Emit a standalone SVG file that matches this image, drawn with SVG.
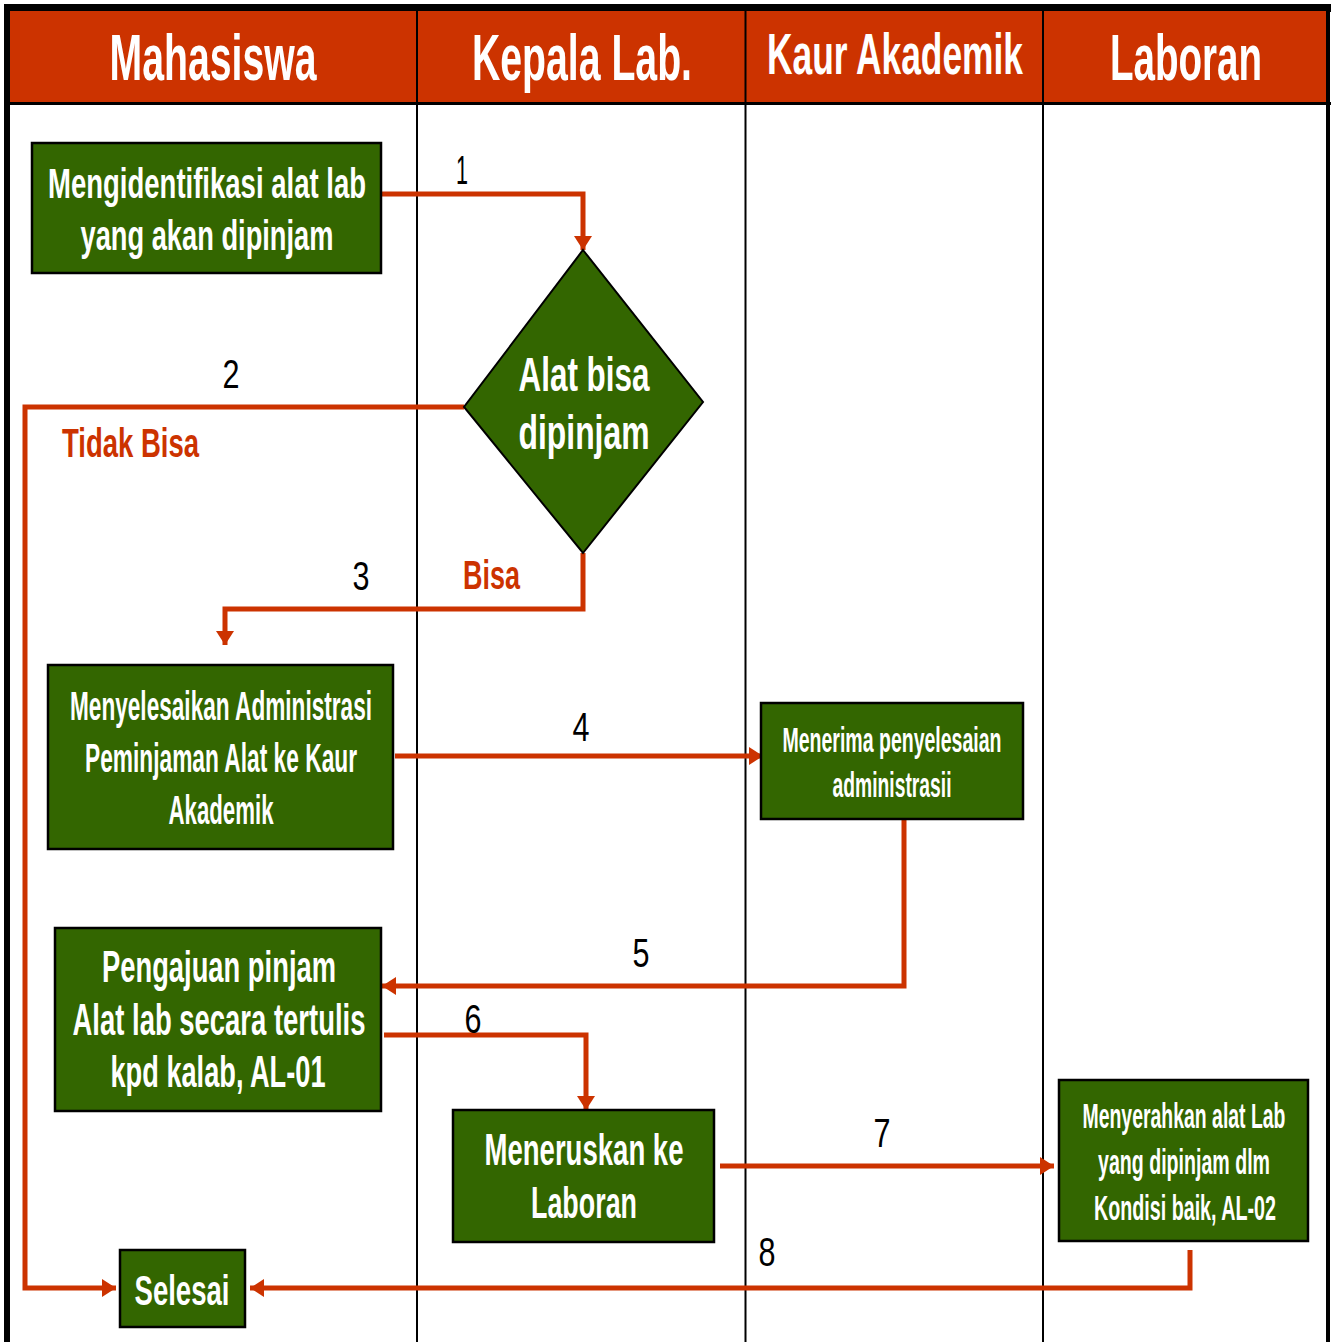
<svg xmlns="http://www.w3.org/2000/svg" width="1335" height="1342" viewBox="0 0 1335 1342">
<style>
.hdr{fill:#CC3300}
.hdrt{font-family:"Liberation Sans",Arial,sans-serif;font-weight:bold;fill:#fff;text-anchor:middle}
.box{fill:#336600;stroke:#000;stroke-width:2.5}
.bt{font-family:"Liberation Sans",Arial,sans-serif;font-weight:bold;fill:#fff;text-anchor:middle}
.num{font-family:"Liberation Sans",Arial,sans-serif;fill:#000;text-anchor:middle}
.lbl{font-family:"Liberation Sans",Arial,sans-serif;font-weight:bold;fill:#CC3300}
.conn{fill:none;stroke:#CC3300;stroke-width:5;stroke-linejoin:miter}
.lane{stroke:#000;stroke-width:2}
</style>
<defs>
<marker id="arr" markerUnits="userSpaceOnUse" markerWidth="16" markerHeight="18" refX="14" refY="9" orient="auto">
<path d="M0,0 L14,9 L0,18 z" fill="#CC3300"/>
</marker>
</defs>
<rect x="0" y="0" width="1335" height="1342" fill="#fff"/>
<g id="frame">
<rect x="4" y="4" width="1327" height="8" fill="#000"/>
<rect class="hdr" x="9" y="11" width="1319" height="92"/>
<rect x="4" y="102" width="1327" height="3" fill="#000"/>
<rect x="4" y="4" width="6" height="1338" fill="#000"/>
<rect x="1326" y="4" width="4" height="1338" fill="#000"/>
<line class="lane" x1="417" y1="11" x2="417" y2="1342"/>
<line class="lane" x1="745.5" y1="11" x2="745.5" y2="1342"/>
<line class="lane" x1="1043" y1="11" x2="1043" y2="1342"/>
<text class="hdrt" x="213" y="80" font-size="64" textLength="207" lengthAdjust="spacingAndGlyphs">Mahasiswa</text>
<text class="hdrt" x="582" y="80" font-size="64" textLength="220" lengthAdjust="spacingAndGlyphs">Kepala Lab.</text>
<text class="hdrt" x="895" y="74" font-size="58" textLength="256" lengthAdjust="spacingAndGlyphs">Kaur Akademik</text>
<text class="hdrt" x="1186" y="80" font-size="64" textLength="152" lengthAdjust="spacingAndGlyphs">Laboran</text>
</g>
<g id="connectors">
<polyline class="conn" points="381,194 583,194 583,250" marker-end="url(#arr)"/>
<polyline class="conn" points="464,407 25,407 25,1288 116,1288" marker-end="url(#arr)"/>
<polyline class="conn" points="583,553 583,609 225,609 225,645" marker-end="url(#arr)"/>
<polyline class="conn" points="395,756 763,756" marker-end="url(#arr)"/>
<polyline class="conn" points="904,819 904,986 382,986" marker-end="url(#arr)"/>
<polyline class="conn" points="384,1035 586,1035 586,1110" marker-end="url(#arr)"/>
<polyline class="conn" points="720,1166 1054,1166" marker-end="url(#arr)"/>
<polyline class="conn" points="1190,1250 1190,1288 250,1288" marker-end="url(#arr)"/>
<text class="num" x="462" y="184" font-size="40" textLength="12" lengthAdjust="spacingAndGlyphs">1</text>
<text class="num" x="231" y="388" font-size="40" textLength="17" lengthAdjust="spacingAndGlyphs">2</text>
<text class="num" x="361" y="590" font-size="40" textLength="17" lengthAdjust="spacingAndGlyphs">3</text>
<text class="num" x="581" y="741" font-size="40" textLength="17" lengthAdjust="spacingAndGlyphs">4</text>
<text class="num" x="641" y="967" font-size="40" textLength="17" lengthAdjust="spacingAndGlyphs">5</text>
<text class="num" x="473" y="1033" font-size="40" textLength="17" lengthAdjust="spacingAndGlyphs">6</text>
<text class="num" x="882" y="1147" font-size="40" textLength="17" lengthAdjust="spacingAndGlyphs">7</text>
<text class="num" x="767" y="1266" font-size="40" textLength="17" lengthAdjust="spacingAndGlyphs">8</text>
<text class="lbl" x="62" y="457" font-size="41" textLength="137" lengthAdjust="spacingAndGlyphs">Tidak Bisa</text>
<text class="lbl" x="463" y="589" font-size="41" textLength="57" lengthAdjust="spacingAndGlyphs">Bisa</text>
</g>
<g id="node-identifikasi">
<rect class="box" x="32" y="143" width="349" height="130"/>
<text class="bt" x="207" y="198" font-size="43" textLength="318" lengthAdjust="spacingAndGlyphs">Mengidentifikasi alat lab</text>
<text class="bt" x="207" y="250" font-size="43" textLength="253" lengthAdjust="spacingAndGlyphs">yang akan dipinjam</text>
</g>
<g id="node-decision">
<polygon points="583,250 703,402 583,553 464,407" fill="#336600" stroke="#000" stroke-width="2"/>
<text class="bt" x="584" y="391" font-size="49" textLength="131" lengthAdjust="spacingAndGlyphs">Alat bisa</text>
<text class="bt" x="584" y="449" font-size="49" textLength="131" lengthAdjust="spacingAndGlyphs">dipinjam</text>
</g>
<g id="node-administrasi">
<rect class="box" x="48" y="665" width="345" height="184"/>
<text class="bt" x="221" y="720" font-size="40" textLength="302" lengthAdjust="spacingAndGlyphs">Menyelesaikan Administrasi</text>
<text class="bt" x="221" y="772" font-size="40" textLength="272" lengthAdjust="spacingAndGlyphs">Peminjaman Alat ke Kaur</text>
<text class="bt" x="221" y="824" font-size="40" textLength="105" lengthAdjust="spacingAndGlyphs">Akademik</text>
</g>
<g id="node-menerima">
<rect class="box" x="761" y="703" width="262" height="116"/>
<text class="bt" x="892" y="752" font-size="35" textLength="219" lengthAdjust="spacingAndGlyphs">Menerima penyelesaian</text>
<text class="bt" x="892" y="797" font-size="35" textLength="119" lengthAdjust="spacingAndGlyphs">administrasii</text>
</g>
<g id="node-pengajuan">
<rect class="box" x="55" y="928" width="326" height="183"/>
<text class="bt" x="219" y="982" font-size="44" textLength="234" lengthAdjust="spacingAndGlyphs">Pengajuan pinjam</text>
<text class="bt" x="219" y="1035" font-size="44" textLength="293" lengthAdjust="spacingAndGlyphs">Alat lab secara tertulis</text>
<text class="bt" x="218" y="1087" font-size="44" textLength="215" lengthAdjust="spacingAndGlyphs">kpd kalab, AL-01</text>
</g>
<g id="node-meneruskan">
<rect class="box" x="453" y="1110" width="261" height="132"/>
<text class="bt" x="584" y="1165" font-size="44" textLength="199" lengthAdjust="spacingAndGlyphs">Meneruskan ke</text>
<text class="bt" x="584" y="1218" font-size="44" textLength="106" lengthAdjust="spacingAndGlyphs">Laboran</text>
</g>
<g id="node-menyerahkan">
<rect class="box" x="1059" y="1080" width="249" height="161"/>
<text class="bt" x="1184" y="1128" font-size="35" textLength="203" lengthAdjust="spacingAndGlyphs">Menyerahkan alat Lab</text>
<text class="bt" x="1184" y="1174" font-size="35" textLength="172" lengthAdjust="spacingAndGlyphs">yang dipinjam dlm</text>
<text class="bt" x="1185" y="1220" font-size="35" textLength="182" lengthAdjust="spacingAndGlyphs">Kondisi baik, AL-02</text>
</g>
<g id="node-selesai">
<rect class="box" x="120" y="1250" width="125" height="77"/>
<text class="bt" x="182" y="1305" font-size="43" textLength="95" lengthAdjust="spacingAndGlyphs">Selesai</text>
</g>
</svg>
